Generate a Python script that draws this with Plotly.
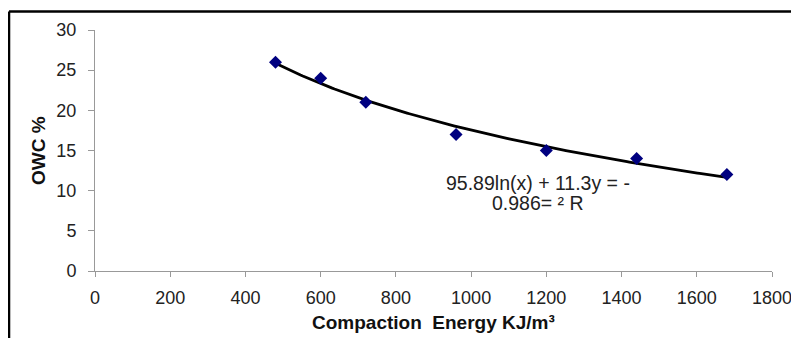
import numpy as np
import plotly.graph_objects as go

energy = [480, 600, 720, 960, 1200, 1440, 1680]
owc = [26, 24, 21, 17, 15, 14, 12]
x_ticks = [0, 200, 400, 600, 800, 1000, 1200, 1400, 1600, 1800]
y_ticks = [0, 5, 10, 15, 20, 25, 30]
eq_lines = ["95.89ln(x) + 11.3y = -", "0.986= ² R"]
x_title = "Compaction  Energy KJ/m³"
y_title = "OWC %"

# logarithmic trendline fitted from the data
b, a = np.polyfit(np.log(energy), owc, 1)
xs = np.linspace(min(energy), max(energy), 200)
ys = b * np.log(xs) + a

fig = go.Figure()
fig.add_trace(go.Scatter(x=xs, y=ys, mode="lines",
                         line=dict(color="black", width=2.8), hoverinfo="skip"))
fig.add_trace(go.Scatter(x=energy, y=owc, mode="markers",
                         marker=dict(symbol="diamond", size=10, color="#000080")))

FONT = "Liberation Sans, Arial, sans-serif"
fig.update_layout(
    width=799, height=338,
    margin=dict(l=87, r=35, t=21.5, b=74.5),
    paper_bgcolor="white", plot_bgcolor="white",
    showlegend=False,
    font=dict(family=FONT, size=18, color="#222"),
    xaxis=dict(range=[0, 1800], tickvals=x_ticks, showgrid=False, zeroline=False,
               showline=True, linecolor="#999", linewidth=1,
               ticks="outside", ticklen=5, tickcolor="#999", ticklabelstandoff=5),
    yaxis=dict(range=[0, 30], tickvals=y_ticks, showgrid=False, zeroline=False,
               showline=True, linecolor="#999", linewidth=1,
               ticks="outside", ticklen=6, tickcolor="#999", ticklabelstandoff=8),
    annotations=[
        dict(x=1178, y=11.0, xref="x", yref="y", text=eq_lines[0], showarrow=False,
             font=dict(size=19.5, color="#222")),
        dict(x=1178, y=8.45, xref="x", yref="y", text=eq_lines[1], showarrow=False,
             font=dict(size=19.5, color="#222")),
        dict(x=0.5, y=0, xref="paper", yref="paper", text="<b>" + x_title + "</b>",
             showarrow=False, yshift=-51.5, yanchor="middle",
             font=dict(size=19, color="#111")),
        dict(x=0, y=0.5, xref="paper", yref="paper", text="<b>" + y_title + "</b>",
             showarrow=False, xshift=-56.5, xanchor="center", textangle=-90,
             font=dict(size=19, color="#111")),
    ],
    shapes=[
        dict(type="line", xref="paper", yref="paper", x0=-0.127, x1=1.1, y0=1.0764, y1=1.0764,
             line=dict(color="black", width=2.5)),
        dict(type="line", xref="paper", yref="paper", x0=-0.127, x1=-0.127, y0=1.0764, y1=-0.4,
             line=dict(color="black", width=2.5)),
    ],
)
fig.write_html("out.html")
